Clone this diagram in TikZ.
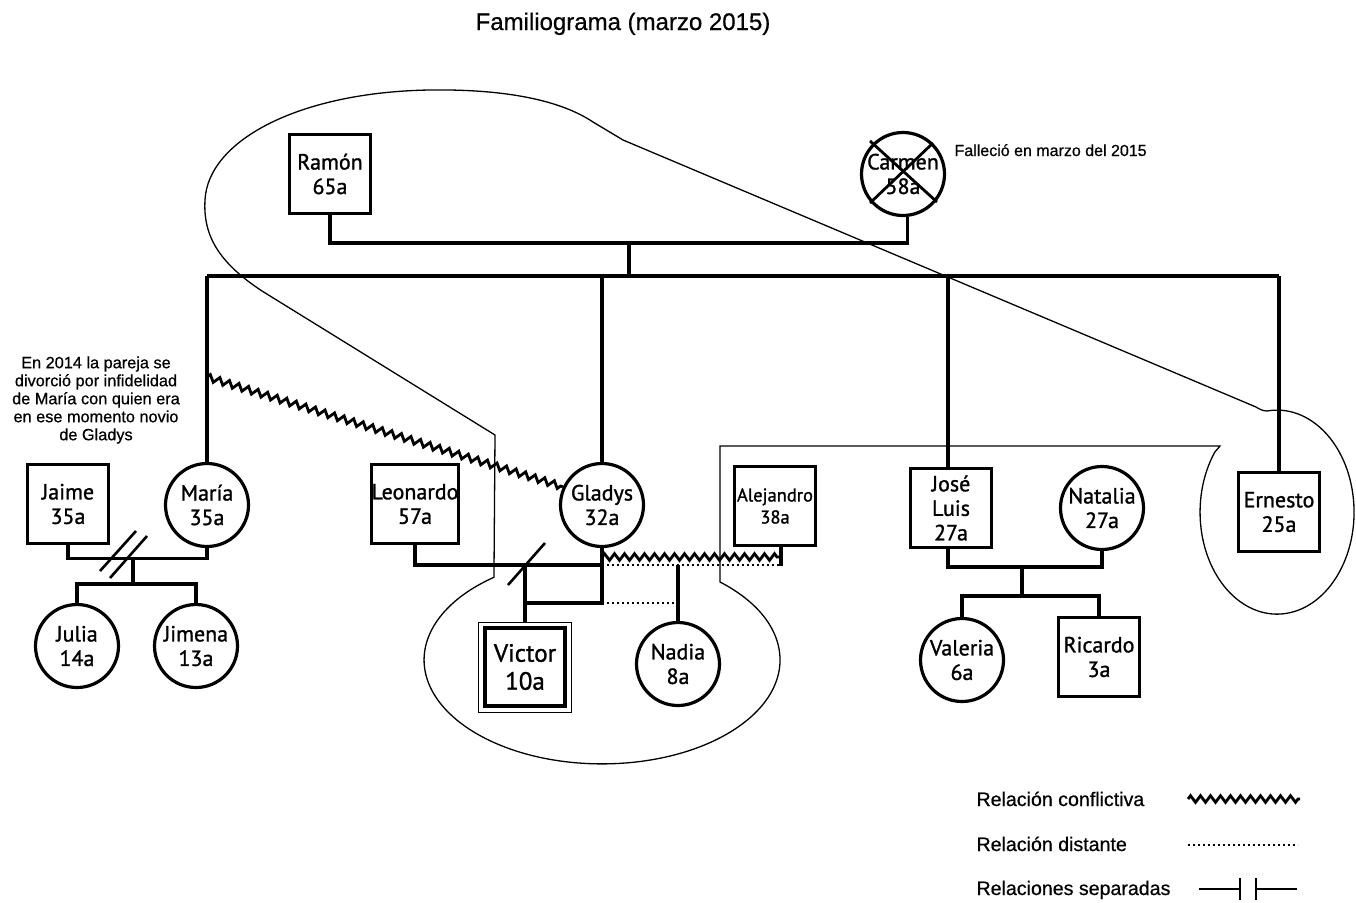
\documentclass[tikz,border=0pt]{standalone}
\usepackage{fontspec}
\setmainfont[FakeBold=0.6]{Liberation Sans}
\newfontfamily\nf[FakeBold=1.2]{PT Sans}
\usetikzlibrary{decorations.pathmorphing,calc}
\begin{document}
\begin{tikzpicture}[x=1pt,y=-1pt,
  conn/.style={line width=3.2pt},
  outl/.style={line width=1.3pt},
  namefont/.style={font=\nf\fontsize{22}{24.5}\selectfont},
  male/.style={draw,line width=3.2pt,rectangle,minimum width=81pt,minimum height=79pt,inner sep=0pt,align=center,namefont},
  female/.style={draw,line width=3.2pt,circle,minimum size=83pt,inner sep=0pt,align=center,namefont},
  conflict/.style={line width=2.8pt,decorate,decoration={zigzag,segment length=10pt,amplitude=3.3pt}},
  distant/.style={line width=2.2pt,dash pattern=on 2pt off 3pt},
  slash/.style={line width=2.6pt},
  note/.style={font=\fontsize{16.3}{18}\selectfont,align=center},
  legend/.style={font=\fontsize{19.6}{22}\selectfont,anchor=base west},
]
\useasboundingbox (0,0) rectangle (1356,902);

% ---------- outline (household) ----------
\draw[outl] (495,435) -- (262,291)
  .. controls (218,262) and (203,235) .. (205,200)
  .. controls (208,140) and (300,92) .. (430,90)
  .. controls (505,89) and (560,100) .. (593,122)
  -- (623,140) -- (1256,407)
  .. controls (1259,409) and (1263,411) .. (1267,411)
  arc[start angle=-97.5, end angle=216, x radius=77, y radius=102]
  -- (1220,446) -- (720,446) -- (720,582)
  arc[start angle=-48.5, end angle=232.6, x radius=178, y radius=104]
  -- cycle;

% ---------- nodes ----------
\node[male] (ramon) at (330,174) {Ramón\\65a};
\node[female] (carmen) at (903,174) {Carmen\\58a};
\node[male] (jaime) at (68,504) {Jaime\\35a};
\node[female] (maria) at (207,505) {María\\35a};
\node[female] (julia) at (77,646) {Julia\\14a};
\node[female] (jimena) at (196,646) {Jimena\\13a};
\node[male] (leonardo) at (415,504) {Leonardo\\57a};
\node[female] (gladys) at (602,505) {Gladys\\32a};
\node[male,font=\nf\fontsize{18.5}{22}\selectfont] (alejandro) at (775,506) {Alejandro\\38a};
\node[draw,line width=1pt,minimum width=93pt,minimum height=90pt,inner sep=0pt] (victorout) at (525,667) {};
\node[male,line width=4pt,minimum width=80pt,minimum height=78pt,font=\nf\fontsize{25}{28}\selectfont] (victor) at (525,667) {Victor\\10a};
\node[female] (nadia) at (678,664) {Nadia\\8a};
\node[male] (joseluis) at (951,508) {José\\Luis\\27a};
\node[female] (natalia) at (1102,508) {Natalia\\27a};
\node[female] (valeria) at (962,660) {Valeria\\6a};
\node[male] (ricardo) at (1099,657) {Ricardo\\3a};
\node[male] (ernesto) at (1279,512) {Ernesto\\25a};

% deceased cross
\draw[line width=2.8pt] (870,141) -- (937,202);
\draw[line width=2.8pt] (933,143) -- (870,203);

% ---------- connectors ----------
\coordinate (sib) at (629,276);
\coordinate (par) at (629,243);
\draw[conn] (ramon.south) |- (par) -| (carmen.-84);
\draw[conn] (par) -- (sib);
\draw[conn] (maria.north |- sib) -- (ernesto.north |- sib);
\draw[conn] (maria.north) -- (maria.north |- sib);
\draw[conn] (gladys.north) -- (gladys.north |- sib);
\draw[conn] ([xshift=-3pt]joseluis.north) -- ([xshift=-3pt]joseluis.north |- sib);
\draw[conn] (ernesto.north) -- (ernesto.north |- sib);

% Jaime - María
\draw[conn] (jaime.south) -- ++(0,13) coordinate (jm) -| (maria.south);
\coordinate (jmc) at (133,558);
\draw[conn] (jmc) -- (133,584) coordinate (jmk);
\draw[conn] (julia.north) |- (jmk) -| (jimena.north);
\draw[slash] (100,571) -- (136,531);
\draw[slash] (110,578) -- (147,536);

% Leonardo - Gladys
\draw[conn] (leonardo.south) |- (gladys.south |- 0,565) -- (gladys.south);
\draw[conn] (gladys.south) -- (gladys.south |- 0,603) coordinate (g603) -- (victorout.north |- g603);
\draw[conn] (victorout.north |- 0,565) -- (victorout.north);
\draw[slash] (508,585) -- (545,543);

% Gladys - Alejandro
\coordinate (alej) at ([xshift=6pt]alejandro.south);
\draw[conflict] (gladys.south |- 0,557) -- (alej |- 0,557);
\draw[conn] (alej) -- (alej |- 0,566);
\draw[distant] (gladys.south |- 0,565) -- (alej |- 0,565);
\draw[conn] (nadia.north |- 0,565) -- (nadia.north);
\draw[distant] (g603) -- (nadia.north |- g603);

% José Luis - Natalia
\draw[conn] ([xshift=-3pt]joseluis.south) |- (natalia.south |- 0,567) -- (natalia.south);
\draw[conn] (1022,567) -- (1022,596) coordinate (jlk);
\draw[conn] (valeria.north) |- (jlk) -| (ricardo.north);

% María - Gladys conflict
\draw[conflict] (maria.north |- 0,377) -- (gladys.155);

% ---------- texts ----------
\node[font=\fontsize{24}{28}\selectfont,anchor=base] (title) at (623,30) {Familiograma (marzo 2015)};
\node[font=\fontsize{16}{19}\selectfont,anchor=base west] (fallecio) at (951,156) {Falleció en marzo del 2015};
\node[note] (nota) at (96,400) {En 2014 la pareja se\\divorció por infidelidad\\de María con quien era\\en ese momento novio\\de Gladys};

% ---------- legend ----------
\node[legend] (l1) at (973,806) {Relación conflictiva};
\node[legend] (l2) at (973,851) {Relación distante};
\node[legend] (l3) at (973,895) {Relaciones separadas};
\coordinate (z1) at (1188,799);
\coordinate (z2) at (1300,799);
\draw[conflict] (z1) -- (z2);
\coordinate (d1) at (1188,845);
\coordinate (d2) at (1298,845);
\draw[distant] (d1) -- (d2);
\coordinate (s1) at (1199,889);
\coordinate (s2) at (1240,889);
\coordinate (s3) at (1256,889);
\coordinate (s4) at (1297,889);
\draw[line width=1.2pt] (s1) -- (s2) (s2 |- 0,878) -- (s2 |- 0,900);
\draw[line width=1.2pt] (s3) -- (s4) (s3 |- 0,878) -- (s3 |- 0,900);
\end{tikzpicture}
\end{document}
